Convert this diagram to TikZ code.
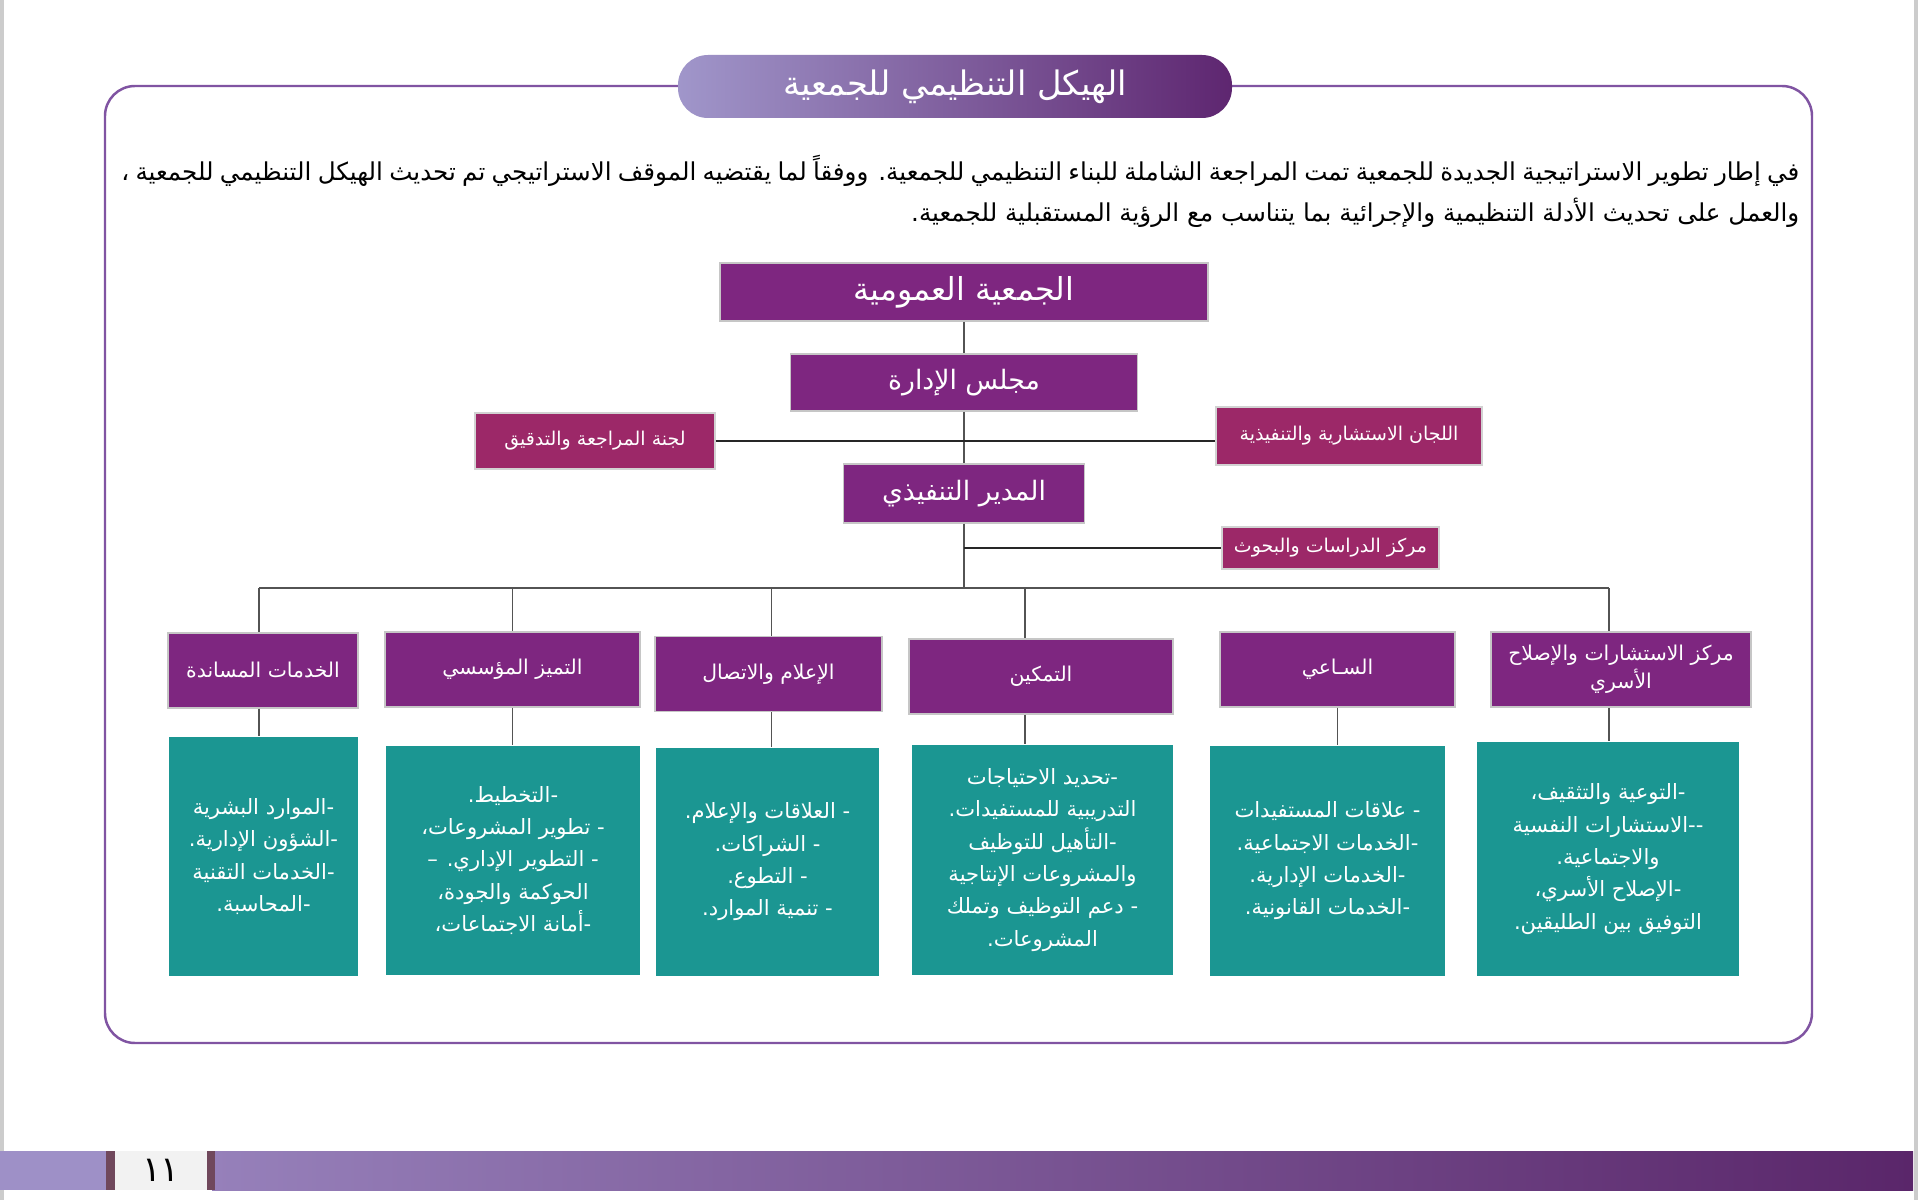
\documentclass[tikz,border=0pt]{standalone}
\usepackage{fontspec}
\usepackage{tikz}
\newfontfamily\arabicfont[Script=Arabic]{DejaVu Sans}
\TeXXeTstate=1
\newcommand{\ar}[1]{\beginR#1\endR}
\newcommand{\arsize}[2]{\arabicfont\fontsize{#1}{#2}\selectfont}

\definecolor{framepurple}{RGB}{128,84,162}
\definecolor{boxpurple}{RGB}{126,38,128}
\definecolor{crimsonbox}{RGB}{156,40,104}
\definecolor{tealfill}{RGB}{27,150,146}
\definecolor{barlight}{RGB}{150,128,186}
\definecolor{bardark}{RGB}{90,38,106}
\definecolor{barleft}{RGB}{158,144,199}
\definecolor{baredge}{RGB}{112,72,92}
\definecolor{bannerlight}{RGB}{160,150,202}
\definecolor{bannerdark}{RGB}{94,38,112}

\tikzset{
  banner/.style={rounded corners=3mm, left color=bannerlight, right color=bannerdark,
    text=white, minimum width=55.4mm, minimum height=6.3mm, inner sep=0pt,
    font=\arsize{9.6}{12}},
  intro/.style={inner sep=0pt, text=black, font=\arsize{7}{9}},
  topbox/.style={fill=boxpurple, draw=gray!45, line width=0.4pt, text=white,
    inner sep=0pt, font=\arsize{9}{11}},
  sidebox/.style={fill=crimsonbox, draw=gray!35, line width=0.4pt, text=white,
    inner sep=0pt, font=\arsize{5.4}{7}},
  deptbox/.style={fill=boxpurple, draw=gray!45, line width=0.4pt, text=white,
    minimum height=7.5mm, inner sep=0pt, align=center, font=\arsize{5.8}{8}},
  listbox/.style={fill=tealfill, text=white, inner sep=0pt, align=center,
    font=\arsize{6}{9.2}},
  spine/.style={draw=gray!65!black, line width=0.5pt},
  rule/.style={draw=black!85, line width=0.7pt},
}

\begin{document}
\begin{tikzpicture}[x=0.1mm,y=-0.1mm]
  \useasboundingbox (0,0) rectangle (1920,1200);
  \fill[white] (0,0) rectangle (1920,1200);
  \fill[gray!40] (0,0) rectangle (4,1200);
  \fill[gray!40] (1914,0) rectangle (1918,1200);

  % frame and title
  \draw[framepurple, line width=0.7pt, rounded corners=3mm] (105,86) rectangle (1812,1043);
  \node[banner] (title) at (955,86.5) {\ar{الهيكل التنظيمي للجمعية}};

  % introduction
  \node[intro, anchor=east] (intro1) at (1800,171)
    {\hbox to 167.8mm{\ar{في إطار تطوير الاستراتيجية الجديدة للجمعية تمت المراجعة الشاملة للبناء التنظيمي للجمعية.  ووفقاً لما يقتضيه الموقف الاستراتيجي تم تحديث الهيكل التنظيمي للجمعية ،}}};
  \node[intro, anchor=east] (intro2) at (1800,213)
    {\ar{والعمل على تحديث الأدلة التنظيمية والإجرائية بما يتناسب مع الرؤية المستقبلية للجمعية.}};

  % top of the chart
  \node[topbox, minimum width=48.8mm, minimum height=5.8mm] (assembly) at (964,292) {\ar{الجمعية العمومية}};
  \node[topbox, minimum width=34.7mm, minimum height=5.7mm, font=\arsize{7.6}{9}] (board) at (964,382.5) {\ar{مجلس الإدارة}};
  \node[sidebox, minimum width=24mm, minimum height=5.6mm] (audit) at (595,441) {\ar{لجنة المراجعة والتدقيق}};
  \node[sidebox, minimum width=26.6mm, minimum height=5.8mm] (advisory) at (1349,436) {\ar{اللجان الاستشارية والتنفيذية}};
  \node[topbox, minimum width=24.1mm, minimum height=5.9mm, font=\arsize{7.6}{9}] (director) at (964,493.5) {\ar{المدير التنفيذي}};
  \node[sidebox, minimum width=21.7mm, minimum height=4.2mm] (research) at (1330.5,548) {\ar{مركز الدراسات والبحوث}};
  \coordinate (bus) at (964,588);

  % departments
  \node[deptbox, minimum width=19mm] (dep1) at (263,670.5) {\ar{الخدمات المساندة}};
  \node[deptbox, minimum width=25.5mm] (dep2) at (512.5,669.5) {\ar{التميز المؤسسي}};
  \node[deptbox, minimum width=22.7mm] (dep3) at (768.5,674) {\ar{الإعلام والاتصال}};
  \node[deptbox, minimum width=26.4mm] (dep4) at (1041,676.5) {\ar{التمكين}};
  \node[deptbox, minimum width=23.5mm] (dep5) at (1337.5,669.5) {\ar{السـاعي}};
  \node[deptbox, minimum width=26mm] (dep6) at (1621,669.5) {\ar{مركز الاستشارات والإصلاح}\\\ar{الأسري}};

  % units of each department
  \node[listbox, minimum width=18.9mm, minimum height=23.9mm] (list1) at (263.5,856.5)
    {\ar{-الموارد البشرية}\\\ar{-الشؤون الإدارية.}\\\ar{-الخدمات التقنية}\\\ar{-المحاسبة.}};
  \node[listbox, minimum width=25.4mm, minimum height=22.9mm] (list2) at (513,860.5)
    {\ar{-التخطيط.}\\\ar{- تطوير المشروعات،}\\\ar{- التطوير الإداري. –}\\\ar{الحوكمة والجودة،}\\\ar{-أمانة الاجتماعات،}};
  \node[listbox, minimum width=22.3mm, minimum height=22.8mm] (list3) at (767.5,862)
    {\ar{- العلاقات والإعلام.}\\\ar{- الشراكات.}\\\ar{- التطوع.}\\\ar{- تنمية الموارد.}};
  \node[listbox, minimum width=26.1mm, minimum height=23mm] (list4) at (1042.5,860)
    {\ar{-تحديد الاحتياجات}\\\ar{التدريبية للمستفيدات.}\\\ar{-التأهيل للتوظيف}\\\ar{والمشروعات الإنتاجية}\\\ar{- دعم التوظيف وتملك}\\\ar{المشروعات.}};
  \node[listbox, minimum width=23.5mm, minimum height=23mm] (list5) at (1327.5,861)
    {\ar{- علاقات المستفيدات}\\\ar{-الخدمات الاجتماعية.}\\\ar{-الخدمات الإدارية.}\\\ar{-الخدمات القانونية.}};
  \node[listbox, minimum width=26.2mm, minimum height=23.4mm] (list6) at (1608,859)
    {\ar{-التوعية والتثقيف،}\\\ar{--الاستشارات النفسية}\\\ar{والاجتماعية.}\\\ar{-الإصلاح الأسري،}\\\ar{التوفيق بين الطليقين.}};

  % connectors
  \draw[spine] (assembly.south) -- (board.north);
  \draw[spine] (board.south) -- (director.north);
  \draw[spine] (director.south) -- (bus);
  \draw[rule] (audit.east) -- (audit.east -| advisory.west);
  \draw[rule] (director.south |- research.west) -- (research.west);
  \foreach \i/\dx in {1/-0.4,2/0,3/0.3,4/-1.6,5/0,6/-1.2} {
    \coordinate (drop\i) at ([xshift=\dx mm]dep\i.north);
    \coordinate (tail\i) at ([xshift=\dx mm]dep\i.south);
  }
  \draw[spine] (bus -| drop1) -- (bus -| drop6);
  \foreach \i in {1,2,3,4,6} {
    \draw[spine] (bus -| drop\i) -- (drop\i);
  }
  \foreach \i in {1,...,6} {
    \draw[spine] (tail\i) -- (tail\i |- list\i.north);
  }

  % page bar
  \shade[left color=barlight, right color=bardark] (212,1151) rectangle (1913,1190);
  \fill[barleft] (0,1151) rectangle (106,1190);
  \fill[baredge] (106,1151) rectangle (115,1190);
  \fill[gray!10] (115,1151) rectangle (207,1190);
  \fill[baredge] (207,1151) rectangle (215,1190);
  \node[font=\arsize{10}{12}] (pagenum) at (161,1170) {١١};
\end{tikzpicture}
\end{document}
